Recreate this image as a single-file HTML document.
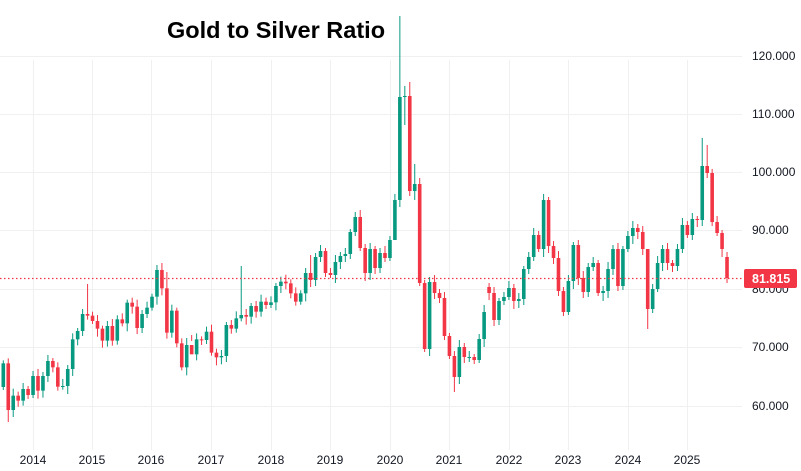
<!DOCTYPE html>
<html><head><meta charset="utf-8"><style>
html,body{margin:0;padding:0;background:#fff;}
svg{display:block;font-family:"Liberation Sans",sans-serif;}
</style></head><body>
<svg id="s" width="801" height="471" viewBox="0 0 801 471" xmlns="http://www.w3.org/2000/svg">
<g id="grid" stroke="#f0f0f0" stroke-width="1"></g>
<g id="cnd"></g>
<line x1="0" x2="742" y1="278.5" y2="278.5" stroke="#f23645" stroke-width="1.2" stroke-dasharray="1.5,2.5"/>
<text x="167" y="38" font-size="23.5" font-weight="bold" fill="#000">Gold to Silver Ratio</text>
<g font-size="12" fill="#131722">
<text x="752" y="60">120.000</text>
<text x="752" y="118">110.000</text>
<text x="752" y="176">100.000</text>
<text x="752" y="234">90.000</text>
<text x="752" y="293">80.000</text>
<text x="752" y="351">70.000</text>
<text x="752" y="410">60.000</text>
</g>
<rect x="744" y="269" width="53" height="19" rx="2" fill="#f23645"/>
<text x="752" y="283" font-size="12.5" font-weight="bold" fill="#fff">81.815</text>
<g font-size="12" fill="#131722" text-anchor="middle">
<text x="33" y="464">2014</text><text x="92" y="464">2015</text><text x="151" y="464">2016</text>
<text x="211" y="464">2017</text><text x="271" y="464">2018</text><text x="330" y="464">2019</text>
<text x="390" y="464">2020</text><text x="449" y="464">2021</text><text x="509" y="464">2022</text>
<text x="568" y="464">2023</text><text x="628" y="464">2024</text><text x="687" y="464">2025</text>
</g>
</svg>
<script>
(function(){
var NS="http://www.w3.org/2000/svg";
var g=document.getElementById("grid");
[56,114,172,230,289,347,406].forEach(function(y){var ln=document.createElementNS(NS,"line");ln.setAttribute("x1",0);ln.setAttribute("x2",742);ln.setAttribute("y1",y+.5);ln.setAttribute("y2",y+.5);g.appendChild(ln);});
[33,92,151,211,271,330,390,449,509,568,628,687].forEach(function(x){var ln=document.createElementNS(NS,"line");ln.setAttribute("x1",x+.5);ln.setAttribute("x2",x+.5);ln.setAttribute("y1",60);ln.setAttribute("y2",450);g.appendChild(ln);});
var z1=[340,480,437,452,417,435,378,422,378,333,352,410,408,357,268,243,192,197,213,236,272,228,272,208,220,158,170,234,192,173,140,60,115,248,182,280,352,285,313,268,270,245,308,322,318,225,236,205,195,200,168,185,155,165,157,108,95,100,130,155,130];
var closes=z1.map(function(v){return 250+v/3;});
closes=closes.concat([273,280,257,251,273,275,262,256,254,232,217,248,273,249,268,253,258,240,200,97,96,191,184,283,349,282,293,298,336,356,377,347,357,357,360,339,312,293,320,301,297,288,301,299,269,257,235,249,200,246,258,291,312,281,245,278,292,267,263,293,291,269,249,286,249,236,228,232,249,309,289,263,249,263,266,249,225,235,219,220,166,173,222,233,249,278]);
var hi={17:284,48:266,80:16,81:86,82:82,83:164,130:260,141:138,142:145,33:272,72:210,62:255};
var lo={1:422,81:125,83:200,85:352,91:392,130:329,139:240,146:283,38:335,79:205};
var opens={0:387,146:257,98:287};
var c=document.getElementById("cnd");
var prev=387;
for(var i=0;i<closes.length;i++){
 var o=(i in opens)?opens[i]:prev, cl=closes[i];
 var up=cl<=o, col=up?"#089981":"#f23645";
 var tp=Math.min(o,cl), bt=Math.max(o,cl);
 var hh=(i in hi)?hi[i]:tp-3-((i*7)%5), ll=(i in lo)?lo[i]:bt+3+((i*5)%6);
 var x=3.3+i*4.957;
 var w=document.createElementNS(NS,"line");w.setAttribute("x1",x);w.setAttribute("x2",x);w.setAttribute("y1",hh);w.setAttribute("y2",ll);w.setAttribute("stroke",col);w.setAttribute("stroke-width",1);c.appendChild(w);
 var r=document.createElementNS(NS,"rect");r.setAttribute("x",x-1.8);r.setAttribute("width",3.6);r.setAttribute("y",tp);r.setAttribute("height",Math.max(1,bt-tp));r.setAttribute("fill",col);c.appendChild(r);
 prev=cl;
}
})();
</script>
</body></html>
